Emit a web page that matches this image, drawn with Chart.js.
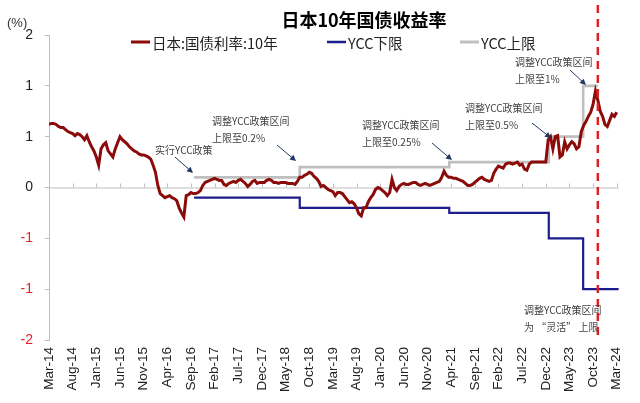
<!DOCTYPE html>
<html>
<head>
<meta charset="utf-8">
<script src="https://cdn.jsdelivr.net/npm/chart.js@4/dist/chart.umd.min.js"></script>
<style>
    html, body { margin: 0; padding: 0; background: #fff; }
    #wrap { width: 640px; height: 403px; position: relative; }
</style>
</head>
<body>
<div id="wrap"><canvas id="jgbChart"></canvas></div>
<script>
// x axis runs in months from Mar-14 (0) ; one tick label every 5 months
const xTickLabels = ['Mar-14', 'Aug-14', 'Jan-15', 'Jun-15', 'Nov-15', 'Apr-16', 'Sep-16', 'Feb-17',
    'Jul-17', 'Dec-17', 'May-18', 'Oct-18', 'Mar-19', 'Aug-19', 'Jan-20', 'Jun-20', 'Nov-20',
    'Apr-21', 'Sep-21', 'Feb-22', 'Jul-22', 'Dec-22', 'May-23', 'Oct-23', 'Mar-24'];

// y tick labels as printed in the source (rounded to whole numbers)
const yTickValues = [-1.5, -1, -0.5, 0, 0.5, 1, 1.5];
const yTickLabels = ['-2', '-1', '-1', '0', '1', '1', '2'];

// Japan 10Y JGB yield (%), two readings per month starting Mar-14
const jgbYield = [
    // 2014
    0.62, 0.63, 0.63, 0.62, 0.60, 0.59, 0.59, 0.57, 0.55, 0.54, 0.53, 0.51, 0.53, 0.52, 0.50, 0.47, 0.51, 0.45, 0.40, 0.36,
    // 2015
    0.30, 0.22, 0.38, 0.42, 0.44, 0.36, 0.33, 0.30, 0.38, 0.44, 0.50, 0.47, 0.45, 0.43, 0.40, 0.38, 0.36, 0.35, 0.33, 0.32, 0.32, 0.31, 0.30, 0.28,
    // 2016
    0.22, 0.15, 0.02, -0.06, -0.08, -0.10, -0.09, -0.08, -0.10, -0.11, -0.13, -0.20, -0.25, -0.29, -0.08, -0.07, -0.05, -0.06, -0.06, -0.05, -0.03, 0.02, 0.05, 0.06,
    // 2017
    0.07, 0.08, 0.09, 0.08, 0.07, 0.07, 0.03, 0.02, 0.04, 0.05, 0.06, 0.05, 0.07, 0.08, 0.06, 0.04, 0.01, 0.03, 0.06, 0.07, 0.04, 0.05, 0.05, 0.05,
    // 2018
    0.07, 0.08, 0.07, 0.05, 0.05, 0.04, 0.05, 0.05, 0.05, 0.04, 0.04, 0.04, 0.03, 0.06, 0.10, 0.10, 0.12, 0.13, 0.15, 0.14, 0.11, 0.09, 0.06, 0.01,
    // 2019
    0.02, 0.00, -0.02, -0.03, -0.04, -0.08, -0.05, -0.05, -0.06, -0.09, -0.12, -0.15, -0.14, -0.16, -0.20, -0.26, -0.28, -0.20, -0.20, -0.14, -0.10, -0.07, -0.02, 0.00,
    // 2020
    -0.01, -0.03, -0.05, -0.08, -0.05, 0.08, 0.00, -0.03, 0.01, 0.03, 0.04, 0.03, 0.03, 0.04, 0.05, 0.05, 0.03, 0.02, 0.03, 0.04, 0.03, 0.02, 0.03, 0.04,
    // 2021
    0.05, 0.06, 0.10, 0.16, 0.12, 0.10, 0.10, 0.09, 0.09, 0.08, 0.07, 0.06, 0.04, 0.02, 0.02, 0.03, 0.05, 0.07, 0.09, 0.10, 0.08, 0.07, 0.06, 0.07,
    // 2022
    0.14, 0.18, 0.21, 0.20, 0.19, 0.23, 0.24, 0.24, 0.23, 0.24, 0.25, 0.22, 0.23, 0.18, 0.17, 0.23, 0.25, 0.25, 0.25, 0.25, 0.25, 0.25, 0.25, 0.47,
    // 2023
    0.50, 0.38, 0.50, 0.51, 0.30, 0.32, 0.45, 0.38, 0.42, 0.45, 0.43, 0.38, 0.40, 0.55, 0.61, 0.65, 0.70, 0.74, 0.82, 0.95, 0.86, 0.75, 0.70, 0.62,
    // 2024
    0.60, 0.66, 0.72, 0.70, 0.74
];

// YCC band changes
const yccDates = ['2016-09-21', '2018-07-31', '2021-03-19', '2022-12-20', '2023-07-28'];
const yccUpper = [0.1, 0.2, 0.25, 0.5, 1.0];
const yccLower = [-0.1, -0.2, -0.25, -0.5, -1.0];
const yccUpperEnd = '2023-10-31';
const yccLowerEnd = '2024-03-15';
const flexDate = '2023-10-31';   // red dashed line

// month index from Mar-14
function toMonth(s) {
    const [y, m, d] = s.split('-').map(Number);
    return (y - 2014) * 12 + (m - 3) + (d - 1) / 30;
}

function stepPoints(values, endDate) {
    const pts = yccDates.map((d, i) => ({ x: toMonth(d), y: values[i] }));
    pts.push({ x: toMonth(endDate), y: values[values.length - 1] });
    return pts;
}

const RED = '#8b0a0a';
const NAVY = '#1c1c8a';
const GREY = '#bfbfbf';
const CJK = '"Noto Sans CJK SC", "Liberation Sans", sans-serif';
const LATIN = '"Liberation Sans", Arial, sans-serif';

// annotation texts (pixel layout)
const notes = [
    { lines: ['实行YCC政策'], x: 155, y: 150, arrow: [175, 157, 193, 173] },
    { lines: ['调整YCC政策区间', '上限至0.2%'], x: 212, y: 121, arrow: [277, 145, 296, 161] },
    { lines: ['调整YCC政策区间', '上限至0.25%'], x: 362, y: 125, arrow: [432, 143, 452, 160] },
    { lines: ['调整YCC政策区间', '上限至0.5%'], x: 465, y: 108, arrow: [532, 123, 551, 138] },
    { lines: ['调整YCC政策区间', '上限至1%'], x: 515, y: 62, arrow: [570, 70, 586, 85] },
    { lines: ['调整YCC政策区间', '为 “灵活” 上限'], x: 524, y: 310 }
];

const legendItems = [
    { label: '日本:国债利率:10年', color: RED, width: 3, x: 131 },
    { label: 'YCC下限', color: NAVY, width: 2.5, x: 327 },
    { label: 'YCC上限', color: GREY, width: 3, x: 460 }
];

const overlay = {
    id: 'overlay',
    beforeDatasetsDraw(chart) {
        const { ctx, chartArea, scales: { x, y } } = chart;
        const y0 = y.getPixelForValue(0);
        ctx.save();
        ctx.strokeStyle = GREY;
        ctx.lineWidth = 1;
        ctx.beginPath();
        ctx.moveTo(chartArea.left, y0 + 0.5);
        ctx.lineTo(chartArea.right, y0 + 0.5);
        x.ticks.forEach(t => {
            const px = Math.round(x.getPixelForValue(t.value)) + 0.5;
            ctx.moveTo(px, y0);
            ctx.lineTo(px, y0 - 4);
        });
        ctx.stroke();
        ctx.restore();
    },
    afterDatasetsDraw(chart) {
        const { ctx, chartArea, scales: { x } } = chart;
        ctx.save();

        // red dashed marker
        const fx = x.getPixelForValue(toMonth(flexDate));
        ctx.strokeStyle = '#e02020';
        ctx.lineWidth = 2.5;
        ctx.setLineDash([8, 6]);
        ctx.beginPath();
        ctx.moveTo(fx, 5);
        ctx.lineTo(fx, chartArea.bottom);
        ctx.stroke();
        ctx.setLineDash([]);

        // annotations
        ctx.font = '10px ' + CJK;
        ctx.fillStyle = '#404040';
        ctx.textAlign = 'left';
        ctx.textBaseline = 'middle';
        notes.forEach(n => {
            n.lines.forEach((t, i) => ctx.fillText(t, n.x, n.y + i * 17));
            if (n.arrow) {
                const [x1, y1, x2, y2] = n.arrow;
                const a = Math.atan2(y2 - y1, x2 - x1);
                ctx.strokeStyle = '#1f3864';
                ctx.fillStyle = '#1f3864';
                ctx.lineWidth = 1;
                ctx.beginPath();
                ctx.moveTo(x1, y1);
                ctx.lineTo(x2 - 4 * Math.cos(a), y2 - 4 * Math.sin(a));
                ctx.stroke();
                ctx.beginPath();
                ctx.moveTo(x2, y2);
                ctx.lineTo(x2 - 6 * Math.cos(a) + 3 * Math.sin(a), y2 - 6 * Math.sin(a) - 3 * Math.cos(a));
                ctx.lineTo(x2 - 6 * Math.cos(a) - 3 * Math.sin(a), y2 - 6 * Math.sin(a) + 3 * Math.cos(a));
                ctx.closePath();
                ctx.fill();
                ctx.fillStyle = '#404040';
            }
        });

        // title, unit, legend
        ctx.fillStyle = '#000';
        ctx.textAlign = 'center';
        ctx.font = 'bold 18px ' + CJK;
        ctx.fillText('日本10年国债收益率', 364, 20);
        ctx.textAlign = 'left';
        ctx.font = '13px ' + LATIN;
        ctx.fillStyle = '#333';
        ctx.fillText('(%)', 7, 23);

        ctx.font = '14.5px ' + CJK;
        legendItems.forEach(it => {
            ctx.strokeStyle = it.color;
            ctx.lineWidth = it.width;
            ctx.beginPath();
            ctx.moveTo(it.x, 42);
            ctx.lineTo(it.x + 19, 42);
            ctx.stroke();
            ctx.fillStyle = '#222';
            ctx.fillText(it.label, it.x + 21, 43);
        });
        ctx.restore();
    }
};

const ctx = document.getElementById('jgbChart').getContext('2d');
new Chart(ctx, {
    type: 'line',
    data: {
        datasets: [
            {
                label: '日本:国债利率:10年',
                data: jgbYield.map((v, i) => ({ x: i / 2, y: v })),
                borderColor: RED,
                borderWidth: 3,
                pointRadius: 0,
                tension: 0
            },
            {
                label: 'YCC下限',
                data: stepPoints(yccLower, yccLowerEnd),
                borderColor: NAVY,
                borderWidth: 2.2,
                pointRadius: 0,
                stepped: 'before'
            },
            {
                label: 'YCC上限',
                data: stepPoints(yccUpper, yccUpperEnd),
                borderColor: GREY,
                borderWidth: 2.6,
                pointRadius: 0,
                stepped: 'before'
            }
        ]
    },
    options: {
        responsive: true,
        maintainAspectRatio: false,
        animation: false,
        layout: { padding: { top: 35, right: 13, left: 0, bottom: 0 } },
        plugins: {
            legend: { display: false },
            title: { display: false },
            tooltip: { enabled: false }
        },
        scales: {
            x: {
                type: 'linear',
                min: 0,
                max: 120.4,
                afterBuildTicks: scale => {
                    scale.ticks = xTickLabels.map((_, i) => ({ value: i * 5 }));
                },
                afterFit: scale => { scale.height = 63; },
                grid: { display: false, drawTicks: false },
                border: { display: false },
                ticks: {
                    autoSkip: false,
                    minRotation: 90,
                    maxRotation: 90,
                    padding: 7,
                    color: '#222',
                    font: { family: LATIN, size: 13.5 },
                    callback: value => xTickLabels[Math.round(value / 5)]
                }
            },
            y: {
                min: -1.5,
                max: 1.5,
                afterBuildTicks: scale => {
                    scale.ticks = yTickValues.map(v => ({ value: v }));
                },
                afterFit: scale => { scale.width = 49; },
                grid: { display: true, drawOnChartArea: false, drawTicks: true, tickLength: 4, color: GREY },
                border: { display: true, color: GREY, width: 1 },
                ticks: {
                    padding: 12,
                    font: { family: LATIN, size: 14 },
                    color: c => (c.tick && c.tick.value < 0 ? '#e8202a' : '#222'),
                    callback: value => yTickLabels[yTickValues.indexOf(value)]
                }
            }
        }
    },
    plugins: [overlay]
});
</script>
</body>
</html>
